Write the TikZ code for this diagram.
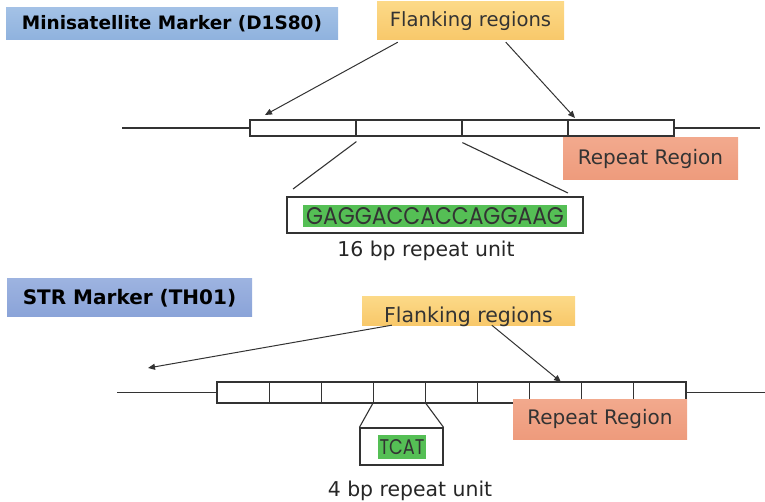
\documentclass[tikz,border=0pt]{standalone}
\usepackage{fontspec}
\usepackage{graphicx}
\usetikzlibrary{arrows.meta,calc}
\newfontfamily\djs{DejaVu Sans}
\newfontfamily\djsb{DejaVu Sans Bold}
\newfontfamily\popf{Poppins}
\definecolor{titleA}{HTML}{A3C1E6}
\definecolor{titleB}{HTML}{8FB2DE}
\definecolor{titleC}{HTML}{9DB3E0}
\definecolor{titleD}{HTML}{8AA3D8}
\definecolor{flankA}{HTML}{FCD987}
\definecolor{flankB}{HTML}{F8C86A}
\definecolor{repA}{HTML}{F2A98D}
\definecolor{repB}{HTML}{EE9B7C}
\definecolor{seqgreen}{HTML}{55BF55}
\definecolor{ln}{HTML}{333333}
\tikzset{
  titlebox/.style={top color=titleA, bottom color=titleB, inner sep=0pt},
  flankbox/.style={top color=flankA, bottom color=flankB, inner sep=0pt, text=ln},
  repbox/.style={top color=repA, bottom color=repB, inner sep=0pt, text=ln, font=\djs\fontsize{20}{24}\selectfont},
  cell/.style={draw=ln, line width=1.2pt, fill=white, inner sep=0pt},
  seqframe/.style={draw=ln, line width=1.2pt, fill=white, inner sep=0pt},
  hl/.style={fill=seqgreen, inner sep=0pt, text=black!80},
  arr/.style={draw=ln, line width=1pt, -{Triangle[length=7pt,width=6pt]}},
  thin/.style={draw=ln, line width=1.1pt},
  unit/.style={font=\djs\fontsize{20.4}{24}\selectfont, text=black!85, inner sep=0pt}
}
\begin{document}
\begin{tikzpicture}[x=1pt,y=-1pt]
\useasboundingbox (0,0) rectangle (765,502);
% ---------- Minisatellite ----------
\node[titlebox, minimum width=332pt, minimum height=32pt] (t1) at (172,24)
  {\djsb\fontsize{18.5}{22}\selectfont Minisatellite Marker (D1S80)};
\node[flankbox, minimum width=187pt, minimum height=38pt, font=\djs\fontsize{19.6}{24}\selectfont] (fl1) at (470.5,21) {Flanking regions};
\node[cell, minimum width=106pt, minimum height=16pt] (a1) at (303,128) {};
\node[cell, minimum width=106pt, minimum height=16pt] (a2) at (409,128) {};
\node[cell, minimum width=106pt, minimum height=16pt] (a3) at (515,128) {};
\node[cell, minimum width=106pt, minimum height=16pt] (a4) at (621,128) {};
\coordinate (aL) at (122,128);
\coordinate (aR) at (760,128);
\draw[thin] (aL) -- (a1.west);
\draw[thin] (a4.east) -- (aR);
\node[repbox, minimum width=175pt, minimum height=42pt] (r1) at (650.5,159) {Repeat Region};
\coordinate (tip1) at (265,115);
\coordinate (tip2) at (575,118);
\draw[arr] ($(fl1.south west)+(21,2)$) -- (tip1);
\draw[arr] ($(fl1.south west)+(129,2)$) -- (tip2);
\node[seqframe, minimum width=296pt, minimum height=36pt] (sb1) at (435,215) {};
\node[hl, minimum width=264pt, minimum height=22pt] (s1) at (435,216)
  {\resizebox{258pt}{17pt}{\popf GAGGACCACCAGGAAG}};
\coordinate (e1) at (293,189);
\coordinate (e2) at (568,193);
\draw[thin] ($(a2.south west)+(1,5)$) -- (e1);
\draw[thin] ($(a3.south west)+(1,6)$) -- (e2);
\node[unit] (u1) at (426,251) {16 bp repeat unit};
% ---------- STR ----------
\node[titlebox, top color=titleC, bottom color=titleD, minimum width=245pt, minimum height=38pt] (t2) at (129.5,298)
  {\djsb\fontsize{20}{24}\selectfont STR Marker (TH01)};
\node[flankbox, minimum width=213pt, text height=26pt, text depth=2pt, inner xsep=0pt, font=\djs\fontsize{20.5}{24}\selectfont] (fl2) at (468.5,311) {Flanking regions};
\foreach \i in {1,...,9}{
  \node[cell, minimum width=52.1pt, minimum height=21pt] (b\i) at ({217+52.1*(\i-0.5)},392.5) {};
}
\coordinate (bL) at (117,392.5);
\coordinate (bR) at (765,392.5);
\draw[thin] (bL) -- (b1.west);
\draw[thin] (b9.east) -- (bR);
\node[repbox, minimum width=174pt, minimum height=40pt] (r2) at (600,419) {Repeat Region};
\coordinate (tip3) at (148,368);
\coordinate (tip4) at (561,382);
\draw[arr] ($(fl2.south west)+(30,0)$) -- (tip3);
\draw[arr] ($(fl2.south west)+(130,0)$) -- (tip4);
\node[seqframe, minimum width=83pt, minimum height=37pt] (sb2) at (401.5,446.5) {};
\node[hl, minimum width=48pt, minimum height=24pt] (s2) at (402,447)
  {\resizebox{45pt}{15pt}{\popf TCAT}};
\draw[thin] (b4.south west) -- (sb2.north west);
\draw[thin] (b4.south east) -- (sb2.north east);
\node[unit] (u2) at (410,491) {4 bp repeat unit};
\end{tikzpicture}
\end{document}
